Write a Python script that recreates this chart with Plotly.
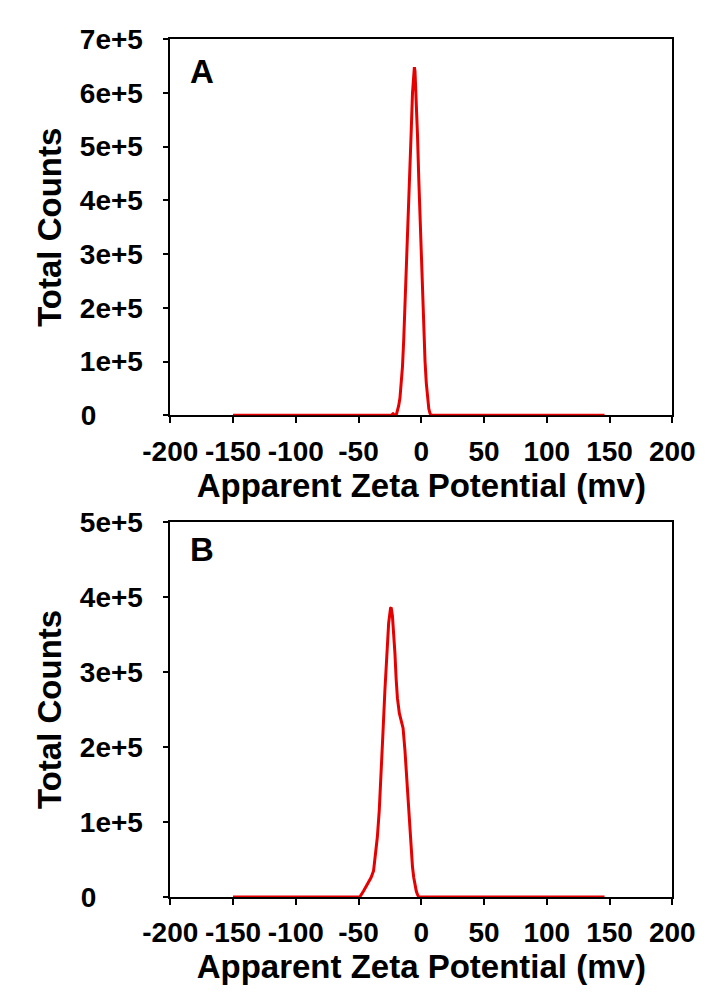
import plotly.graph_objects as go

# ---------------- data ----------------
zeta_a = [-150, -24, -22.5, -21, -20, -19, -18, -17, -16, -15, -14, -13, -12, -11, -10,
          -9, -8, -7, -6, -5.5, -5, -4, -3, -2, -1, 0, 1, 2, 3, 4, 5, 6, 7, 8, 146]
counts_a = [0, 0, 3000, 0, 0, 8000, 18000, 32000, 55000, 90000, 140000, 200000, 265000,
            331000, 400000, 465000, 530000, 600000, 645000, 648000, 640000, 590000,
            520000, 440000, 365000, 290000, 215000, 150000, 100000, 60000, 30000,
            12000, 3000, 0, 0]

zeta_b = [-150, -49, -46, -43, -40, -38, -36.5, -35, -33.5, -32, -30.5, -29, -27.5, -26,
          -24.5, -24, -23, -22, -21, -20, -19, -17.5, -16, -14.5, -13, -12, -11, -10,
          -9, -8, -7, -6, -5, -4, -3, -2, 146]
counts_b = [0, 0, 8000, 17000, 26000, 35000, 55000, 80000, 115000, 160000, 220000,
            275000, 330000, 365000, 385000, 386000, 375000, 355000, 325000, 290000,
            265000, 245000, 235000, 225000, 195000, 170000, 135000, 105000, 80000,
            58000, 40000, 26000, 15000, 8000, 3000, 0, 0]

x_tickvals = [-200, -150, -100, -50, 0, 50, 100, 150, 200]
x_ticktext = ["-200", "-150", "-100", "-50", "0", "50", "100", "150", "200"]
ya_tickvals = [0, 100000, 200000, 300000, 400000, 500000, 600000, 700000]
ya_ticktext = ["0", "1e+5", "2e+5", "3e+5", "4e+5", "5e+5", "6e+5", "7e+5"]
yb_tickvals = [0, 100000, 200000, 300000, 400000, 500000]
yb_ticktext = ["0", "1e+5", "2e+5", "3e+5", "4e+5", "5e+5"]

x_title = "Apparent Zeta Potential (mv)"
y_title = "Total Counts"
panel_labels = ["A", "B"]

# ---------------- style ----------------
FONT = "Liberation Sans, Arial, sans-serif"
RED = "#e60000"
W, H = 726, 1008
NB = "\u00a0"


def pad_zero(texts):
    # tick labels in the reference are left-aligned; pad the short "0"
    return [t + NB * 6 if t == "0" else t for t in texts]


fig = go.Figure()
fig.add_trace(go.Scatter(x=zeta_a, y=counts_a, mode="lines", xaxis="x", yaxis="y",
                         line=dict(color=RED, width=3), cliponaxis=False,
                         showlegend=False))
fig.add_trace(go.Scatter(x=zeta_b, y=counts_b, mode="lines", xaxis="x2", yaxis="y2",
                         line=dict(color=RED, width=3), cliponaxis=False,
                         showlegend=False))

xdom = [153 / W, 693 / W]
ya_dom = [1 - 413 / H, 1 - 25 / H]
yb_dom = [1 - 910 / H, 1 - 523 / H]

tickfont = dict(family=FONT, size=28, color="black", weight="bold")
titlefont = dict(family=FONT, size=33, color="black", weight="bold")

common_x = dict(range=[-200, 200], tickmode="array", tickvals=x_tickvals,
                ticktext=x_ticktext, ticks="outside", ticklen=6, tickwidth=1.5,
                tickcolor="black", showline=True, linecolor="black", linewidth=1.5,
                mirror=True, showgrid=False, zeroline=False, tickfont=tickfont,
                layer="below traces", ticklabelstandoff=4,
                title=dict(text=x_title + NB * 3, font=titlefont, standoff=2))
common_y = dict(tickmode="array", ticks="outside", ticklen=6, tickwidth=1.5,
                tickcolor="black", showline=True, linecolor="black", linewidth=1.5,
                mirror=True, showgrid=False, zeroline=False, tickfont=tickfont,
                layer="below traces", ticklabelstandoff=14)

fig.update_layout(
    width=W, height=H,
    margin=dict(l=0, r=0, t=0, b=0),
    paper_bgcolor="white", plot_bgcolor="white",
    font=dict(family=FONT, color="black", weight="bold"),
    xaxis=dict(domain=xdom, anchor="y", **common_x),
    xaxis2=dict(domain=xdom, anchor="y2", **common_x),
    yaxis=dict(domain=ya_dom, anchor="x", range=[0, 700000], tickvals=ya_tickvals,
               ticktext=pad_zero(ya_ticktext),
               title=dict(text=NB * 2 + y_title, font=titlefont, standoff=8),
               **common_y),
    yaxis2=dict(domain=yb_dom, anchor="x2", range=[0, 500000], tickvals=yb_tickvals,
                ticktext=pad_zero(yb_ticktext),
                title=dict(text=NB * 5 + y_title, font=titlefont, standoff=8),
                **common_y),
    annotations=[
        dict(text=panel_labels[0], xref="paper", yref="paper", x=186.7 / W,
             y=1 - 58.7 / H, xanchor="center", yanchor="middle", showarrow=False,
             font=dict(family=FONT, size=33, color="black", weight="bold")),
        dict(text=panel_labels[1], xref="paper", yref="paper", x=187.5 / W,
             y=1 - 551.7 / H, xanchor="center", yanchor="middle", showarrow=False,
             font=dict(family=FONT, size=33, color="black", weight="bold")),
    ],
)

fig.write_html("out.html")
